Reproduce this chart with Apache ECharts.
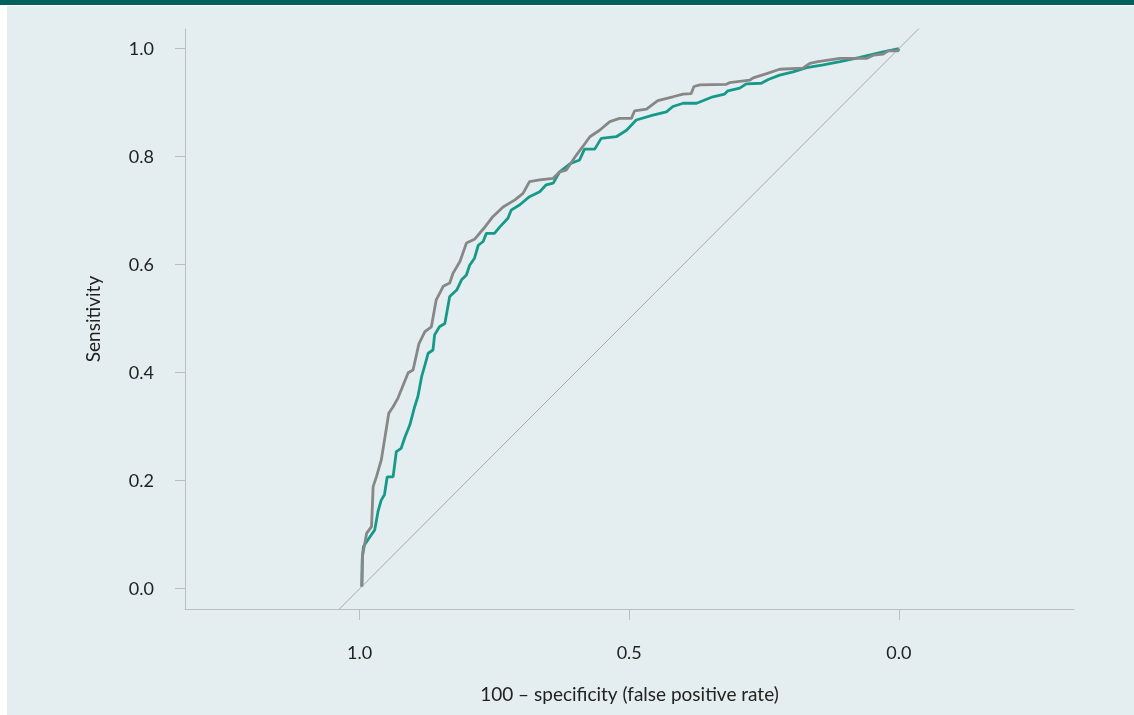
<!DOCTYPE html>
<html>
<head>
<meta charset="utf-8">
<script src="https://cdn.jsdelivr.net/npm/echarts@6/dist/echarts.min.js"></script>
<style>
  html, body { margin: 0; padding: 0; background: #ffffff; }
  #band { position: absolute; left: 0; top: 0; width: 1134px; height: 5px; background: #00605f; }
  #panel { position: absolute; left: 7px; top: 6px; right: 0; bottom: 0; width: 1127px; height: 709px; background: #e4eef0; }
  #chart { position: absolute; left: 0; top: 0; width: 1134px; height: 715px; }
</style>
</head>
<body>
<div id="band"></div>
<div id="panel"></div>
<div id="chart"></div>
<script>
// ROC curves: [specificity, sensitivity]
var greyCurve = [
  [0.996,0.004],[0.995,0.059],[0.987,0.103],[0.978,0.115],[0.975,0.189],[0.969,0.207],
  [0.960,0.238],[0.954,0.275],[0.946,0.325],[0.938,0.337],[0.929,0.353],[0.923,0.368],
  [0.910,0.400],[0.901,0.405],[0.890,0.454],[0.879,0.476],[0.867,0.485],[0.858,0.535],
  [0.845,0.560],[0.833,0.566],[0.827,0.584],[0.814,0.606],[0.802,0.640],[0.787,0.647],
  [0.770,0.667],[0.753,0.689],[0.734,0.707],[0.712,0.720],[0.697,0.732],[0.685,0.754],
  [0.666,0.757],[0.641,0.760],[0.629,0.772],[0.617,0.775],[0.598,0.803],[0.586,0.819],
  [0.573,0.837],[0.555,0.849],[0.536,0.865],[0.518,0.871],[0.496,0.871],[0.490,0.885],
  [0.468,0.888],[0.447,0.904],[0.419,0.911],[0.400,0.916],[0.385,0.917],[0.380,0.930],
  [0.369,0.933],[0.320,0.934],[0.314,0.937],[0.276,0.942],[0.270,0.946],[0.245,0.954],
  [0.221,0.962],[0.178,0.964],[0.165,0.973],[0.150,0.976],[0.109,0.982],[0.060,0.982],
  [0.047,0.988],[0.029,0.990],[0.020,0.996],[0.001,0.996],[0,1.0]
]
var tealCurve = [
  [0.996,0.004],[0.995,0.059],[0.993,0.078],[0.983,0.093],[0.972,0.109],[0.966,0.143],
  [0.960,0.164],[0.954,0.174],[0.949,0.207],[0.938,0.207],[0.932,0.254],[0.923,0.260],
  [0.916,0.281],[0.907,0.303],[0.898,0.337],[0.892,0.356],[0.885,0.393],[0.879,0.414],
  [0.873,0.436],[0.864,0.442],[0.861,0.470],[0.852,0.485],[0.842,0.491],[0.833,0.541],
  [0.820,0.553],[0.811,0.572],[0.802,0.581],[0.796,0.599],[0.787,0.612],[0.780,0.636],
  [0.771,0.643],[0.765,0.658],[0.750,0.658],[0.740,0.670],[0.725,0.686],[0.719,0.701],
  [0.703,0.711],[0.685,0.726],[0.666,0.735],[0.654,0.748],[0.641,0.751],[0.629,0.772],
  [0.610,0.787],[0.592,0.794],[0.583,0.814],[0.564,0.814],[0.552,0.834],[0.524,0.837],
  [0.505,0.849],[0.487,0.868],[0.456,0.877],[0.431,0.883],[0.419,0.893],[0.400,0.899],
  [0.375,0.899],[0.345,0.911],[0.323,0.916],[0.317,0.922],[0.295,0.927],[0.283,0.935],
  [0.255,0.936],[0.242,0.943],[0.221,0.951],[0.196,0.957],[0.171,0.965],[0.140,0.970],
  [0.109,0.976],[0.072,0.984],[0.047,0.990],[0.029,0.994],[0,1.0]
]
// chance line, clipped by the grid
var chanceLine = [[1.2,-0.2],[-0.2,1.2]]
var xTicks = [0, 0.5, 1]
var yTicks = [0, 0.2, 0.4, 0.6, 0.8, 1]

var chart = echarts.init(document.getElementById('chart'), null, {renderer: 'canvas'})
var axisColor = '#bcbfc0'
var tickText = {color: '#222222', fontFamily: 'Lato', fontSize: 18}
var nameText = {color: '#222222', fontFamily: 'Lato', fontSize: 19}

chart.setOption({
  animation: false,
  backgroundColor: 'transparent',
  grid: {left: 185, right: 60, top: 29, bottom: 106},
  xAxis: {
    type: 'value',
    inverse: true,
    min: -0.325,
    max: 1.324,
    name: '100 \u2013 specificity (false positive rate)',
    nameLocation: 'middle',
    nameGap: 76,
    nameTextStyle: nameText,
    axisLine: {show: true, onZero: false, lineStyle: {color: axisColor, width: 1}},
    axisTick: {show: true, customValues: xTicks, length: 11, lineStyle: {color: axisColor}},
    axisLabel: Object.assign({customValues: xTicks, margin: 35, formatter: function (v) { return v.toFixed(1) }}, tickText),
    splitLine: {show: false}
  },
  yAxis: {
    type: 'value',
    min: -0.0376,
    max: 1.0365,
    name: 'Sensitivity',
    nameLocation: 'middle',
    nameGap: 82,
    nameTextStyle: nameText,
    axisLine: {show: true, onZero: false, lineStyle: {color: axisColor, width: 1}},
    axisTick: {show: true, customValues: yTicks, length: 10, lineStyle: {color: axisColor}},
    axisLabel: Object.assign({customValues: yTicks, margin: 31, formatter: function (v) { return v.toFixed(1) }}, tickText),
    splitLine: {show: false}
  },
  series: [
    {
      type: 'line',
      data: chanceLine,
      clip: true,
      symbol: 'none',
      lineStyle: {color: '#a9abab', width: 1},
      silent: true
    },
    {
      type: 'line',
      data: tealCurve,
      symbol: 'none',
      lineStyle: {color: '#17998a', width: 2.8}
    },
    {
      type: 'line',
      data: greyCurve,
      symbol: 'none',
      lineStyle: {color: '#878787', width: 2.8}
    }
  ]
})
</script>
</body>
</html>
